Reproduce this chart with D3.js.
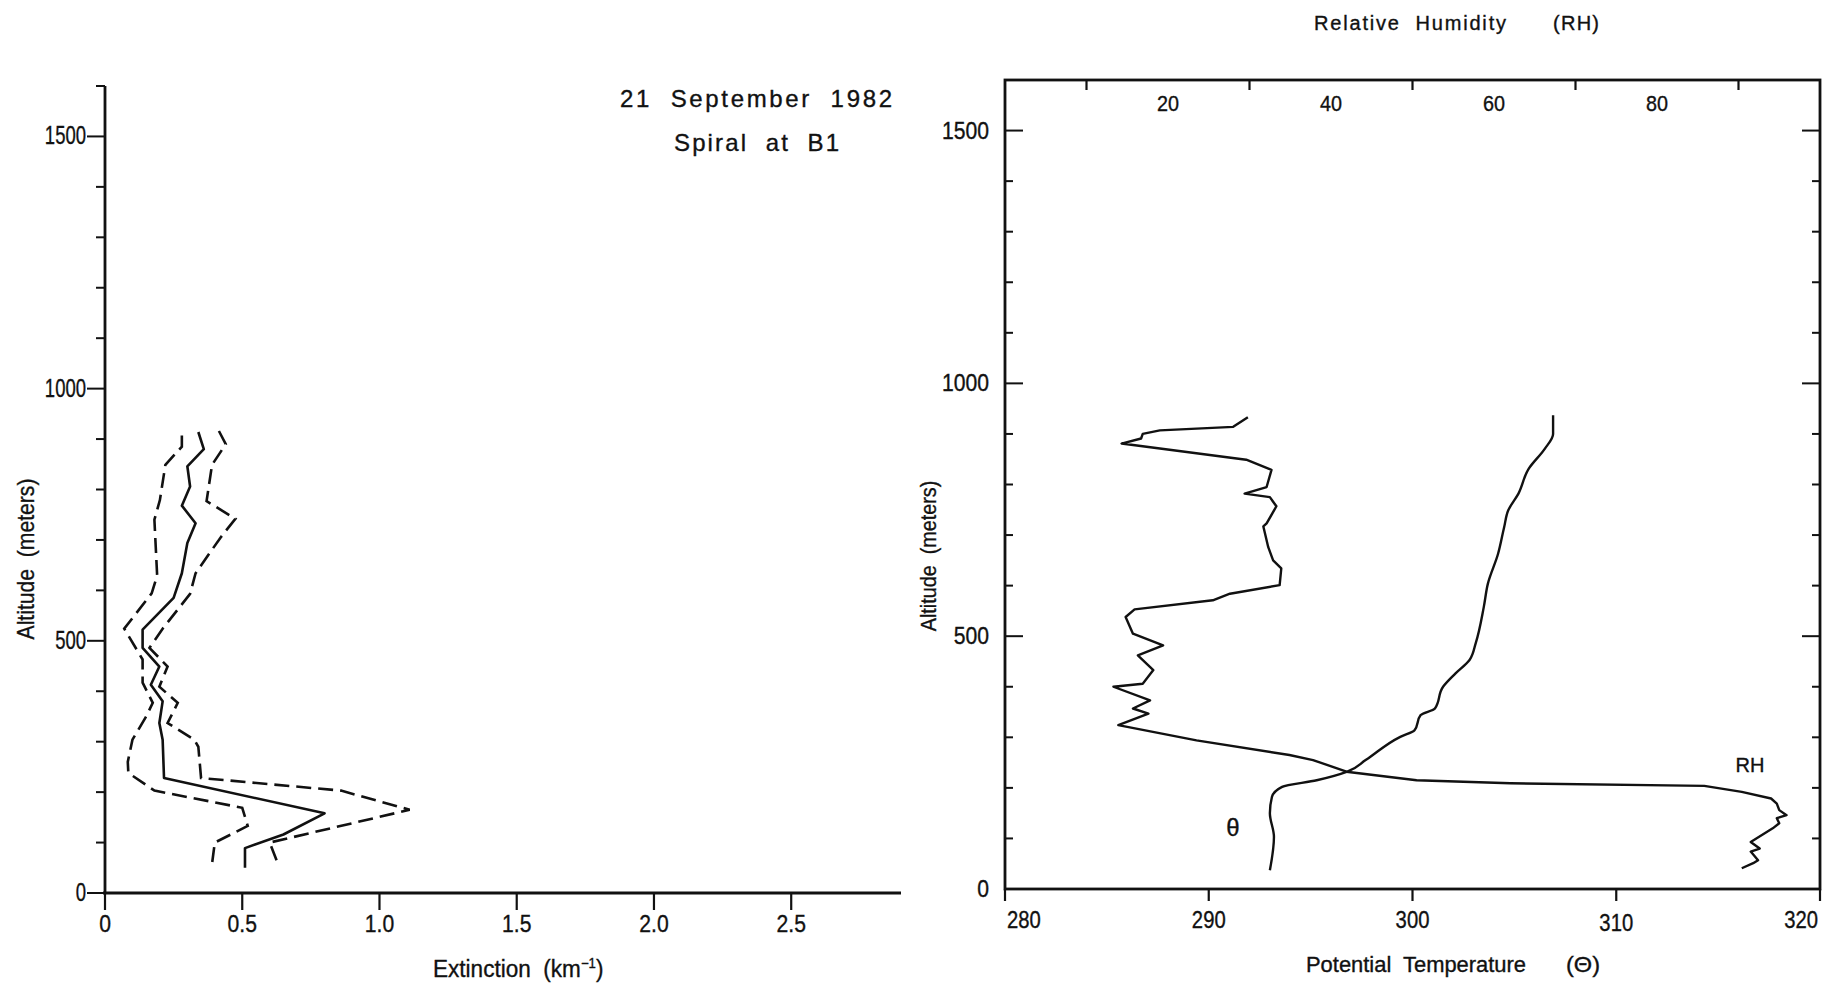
<!DOCTYPE html>
<html>
<head>
<meta charset="utf-8">
<script src="https://cdn.jsdelivr.net/npm/d3@7"></script>
<style>
  html, body { margin: 0; padding: 0; background: #fff; }
  svg { display: block; }
  text { fill: #111; stroke: #111; stroke-width: 0.35px; font-family: "Liberation Sans", Arial, sans-serif; }
</style>
</head>
<body>
<svg id="chart" width="1835" height="985"></svg>
<script>
// ---- Extinction profile, 21 September 1982, spiral at B1: [altitude m, extinction km^-1]
const extMean = [
  [914,0.34],[880,0.36],[846,0.30],[806,0.31],[768,0.28],[733,0.33],[694,0.30],
  [634,0.28],[585,0.25],[522,0.137],[486,0.137],[449,0.198],[413,0.167],[380,0.21],
  [337,0.198],[304,0.21],[228,0.215],[158,0.80],[116,0.65],[89,0.51],[50,0.51]
];
const extLower = [
  [907,0.28],[885,0.28],[849,0.22],[779,0.20],[740,0.18],[629,0.19],[594,0.17],
  [524,0.07],[463,0.137],[417,0.137],[377,0.174],[350,0.15],[304,0.10],[260,0.083],
  [238,0.085],[203,0.18],[169,0.50],[133,0.52],[100,0.40],[58,0.39]
];
const extUpper = [
  [916,0.415],[890,0.44],[849,0.39],[777,0.37],[742,0.475],[704,0.42],[634,0.33],
  [593,0.31],[524,0.21],[486,0.162],[449,0.228],[409,0.198],[377,0.265],[337,0.228],
  [304,0.325],[290,0.34],[228,0.35],[203,0.86],[165,1.11],[100,0.60],[58,0.63]
];

// ---- Relative humidity profile: [altitude m, RH %]
const rhProfile = [
  [933,29.8],[914,28.0],[907,19.0],[900,16.9],[891,16.7],[881,14.3],[849,29.6],
  [829,32.7],[795,32.1],[782,29.4],[775,32.5],[757,33.3],[723,32.1],[717,31.7],
  [676,32.3],[650,32.9],[634,33.9],[601,33.7],[584,27.6],[571,25.5],[553,15.9],
  [538,14.8],[505,15.7],[482,19.4],[462,16.3],[433,18.2],[406,16.9],[400,13.3],
  [373,17.8],[357,15.7],[347,17.6],[324,13.9],[294,23.5],[265,34.9],[255,37.8],
  [232,41.9],[215,50.5],[209,62.0],[204,85.8],[192,90.4],[179,94.0],[169,94.7],
  [156,95.0],[146,95.9],[140,94.7],[130,95.0],[120,94.2],[93,91.5],[80,92.6],
  [74,91.5],[57,92.4],[51,91.8],[41,90.4]
];

// ---- Potential temperature profile: [altitude m, theta K]
const thetaProfile = [
  [937,306.9],[900,306.9],[871,306.5],[831,305.7],[782,305.2],[749,304.7],
  [716,304.5],[663,304.2],[604,303.7],[558,303.5],[486,303.1],[453,302.8],
  [426,302.1],[400,301.5],[357,301.1],[344,300.4],[314,300.1],[301,299.4],
  [255,297.7],[232,296.8],[215,295.3],[202,293.6],[182,293.1],[150,293.0],
  [103,293.2],[37,293.0]
];

// ---- Tick values
const altMajor = [0, 500, 1000, 1500];
const altMinor = d3.range(0, 1601, 100);
const extTicks = [0, 0.5, 1.0, 1.5, 2.0, 2.5];
const thetaTicks = [280, 290, 300, 310, 320];
const rhTickMarks = [10, 30, 50, 70, 90];
const rhTickLabels = [20, 40, 60, 80];

const svg = d3.select("#chart");
const INK = "#111";

// horizontally condensed text (the plotter lettering is narrow)
function condensed(sel, x, y, sx, size, anchor, rotate) {
  return sel.attr("transform", `translate(${x},${y})` + (rotate ? ` rotate(${rotate})` : "") + ` scale(${sx},1)`)
    .attr("font-size", size).attr("text-anchor", anchor);
}

// =================== Left panel: extinction ===================
const L = { left: 105, right: 901, top: 86, bottom: 893 };
const xExt = d3.scaleLinear().domain([0, 2.9]).range([L.left, L.right]);
const yL = d3.scaleLinear().domain([0, 1600]).range([L.bottom, L.top]);

const gL = svg.append("g");

// y axis: ticks every 100 m, long ticks at labelled values
gL.append("line").attr("x1", L.left).attr("x2", L.left)
  .attr("y1", yL(0)).attr("y2", yL(1600))
  .attr("stroke", INK).attr("stroke-width", 2.8);
gL.selectAll(".ymin").data(altMinor).join("line")
  .attr("x1", L.left).attr("y1", d => yL(d)).attr("y2", d => yL(d))
  .attr("x2", d => altMajor.includes(d) ? L.left - 18 : L.left - 9)
  .attr("stroke", INK).attr("stroke-width", 2);
gL.selectAll(".ylab").data(altMajor).join("text")
  .each(function(d) { condensed(d3.select(this), L.left - 19, yL(d) + 8, 0.74, 25, "end"); })
  .text(d => d);

// x axis
gL.append("line").attr("x1", L.left - 2).attr("x2", L.right)
  .attr("y1", L.bottom).attr("y2", L.bottom)
  .attr("stroke", INK).attr("stroke-width", 2.8);
gL.selectAll(".xt").data(extTicks).join("line")
  .attr("x1", d => xExt(d)).attr("x2", d => xExt(d))
  .attr("y1", L.bottom).attr("y2", L.bottom + 17)
  .attr("stroke", INK).attr("stroke-width", 2.2);
gL.selectAll(".xl").data(extTicks).join("text")
  .each(function(d) { condensed(d3.select(this), xExt(d), L.bottom + 39, 0.88, 24, "middle"); })
  .text(d => d === 0 ? "0" : d3.format(".1f")(d));

// profiles
const lineExt = d3.line().x(d => xExt(d[1])).y(d => yL(d[0]));
gL.append("path").datum(extMean).attr("d", lineExt)
  .attr("fill", "none").attr("stroke", INK).attr("stroke-width", 2.6)
  .attr("stroke-linejoin", "round");
[extLower, extUpper].forEach(s => {
  gL.append("path").datum(s).attr("d", lineExt)
    .attr("fill", "none").attr("stroke", INK).attr("stroke-width", 2.6)
    .attr("stroke-dasharray", "15 7");
});

// axis titles and annotation
condensed(gL.append("text"), 34, 559, 0.92, 23, "middle", -90)
  .attr("xml:space", "preserve").text("Altitude  (meters)");
const extTitle = condensed(gL.append("text"), 433, 977, 0.94, 24, "start")
  .attr("xml:space", "preserve");
extTitle.append("tspan").text("Extinction  (km");
extTitle.append("tspan").attr("dy", -9).attr("font-size", 14).text("−1");
extTitle.append("tspan").attr("dy", 9).text(")");

gL.append("text").attr("x", 892).attr("y", 107).attr("text-anchor", "end")
  .attr("font-size", 24).attr("textLength", 272).attr("lengthAdjust", "spacing")
  .attr("xml:space", "preserve").text("21  September  1982");
gL.append("text").attr("x", 839).attr("y", 151).attr("text-anchor", "end")
  .attr("font-size", 24).attr("textLength", 165).attr("lengthAdjust", "spacing")
  .attr("xml:space", "preserve").text("Spiral  at  B1");

// =================== Right panel: RH and potential temperature ===================
const R = { left: 1005, right: 1820, top: 80, bottom: 889 };
const xTheta = d3.scaleLinear().domain([280, 320]).range([R.left, R.right]);
const xRH = d3.scaleLinear().domain([0, 100]).range([R.left, R.right]);
const yR = d3.scaleLinear().domain([0, 1600]).range([R.bottom, R.top]);

const gR = svg.append("g");
gR.append("rect").attr("x", R.left).attr("y", R.top)
  .attr("width", R.right - R.left).attr("height", R.bottom - R.top)
  .attr("fill", "none").attr("stroke", INK).attr("stroke-width", 2.8);

// inward altitude ticks on both sides
gR.selectAll(".yl").data(altMinor.slice(1, -1)).join("line")
  .attr("x1", R.left).attr("y1", d => yR(d)).attr("y2", d => yR(d))
  .attr("x2", d => altMajor.includes(d) ? R.left + 18 : R.left + 8)
  .attr("stroke", INK).attr("stroke-width", 2);
gR.selectAll(".yr").data(altMinor.slice(1, -1)).join("line")
  .attr("x1", R.right).attr("y1", d => yR(d)).attr("y2", d => yR(d))
  .attr("x2", d => altMajor.includes(d) ? R.right - 18 : R.right - 8)
  .attr("stroke", INK).attr("stroke-width", 2);
gR.selectAll(".ylabR").data(altMajor).join("text")
  .each(function(d) { condensed(d3.select(this), R.left - 16, yR(d) + 8, 0.92, 23, "end"); })
  .text(d => d);

// bottom theta axis
gR.selectAll(".bt").data(thetaTicks).join("line")
  .attr("x1", d => xTheta(d)).attr("x2", d => xTheta(d))
  .attr("y1", R.bottom).attr("y2", R.bottom + 12)
  .attr("stroke", INK).attr("stroke-width", 2.2);
gR.selectAll(".bl").data(thetaTicks).join("text")
  .each(function(d) {
    const dx = d === 280 ? 2 : d === 320 ? -2 : 0;
    const anchor = d === 280 ? "start" : d === 320 ? "end" : "middle";
    condensed(d3.select(this), xTheta(d) + dx, R.bottom + (d === 310 ? 42 : 39), 0.88, 23, anchor);
  })
  .text(d => d);

// top RH axis
gR.selectAll(".tt").data(rhTickMarks).join("line")
  .attr("x1", d => xRH(d)).attr("x2", d => xRH(d))
  .attr("y1", R.top).attr("y2", R.top + 10)
  .attr("stroke", INK).attr("stroke-width", 2.2);
gR.selectAll(".tl").data(rhTickLabels).join("text")
  .each(function(d) { condensed(d3.select(this), xRH(d), R.top + 31, 0.9, 22, "middle"); })
  .text(d => d);

// profiles
const lineRH = d3.line().x(d => xRH(d[1])).y(d => yR(d[0]));
const lineTh = d3.line().x(d => xTheta(d[1])).y(d => yR(d[0])).curve(d3.curveMonotoneY);
gR.append("path").datum(rhProfile).attr("d", lineRH)
  .attr("fill", "none").attr("stroke", INK).attr("stroke-width", 2.4)
  .attr("stroke-linejoin", "round");
gR.append("path").datum(thetaProfile).attr("d", lineTh)
  .attr("fill", "none").attr("stroke", INK).attr("stroke-width", 2.4);

// curve labels
gR.append("text").attr("x", 1233).attr("y", 836).attr("text-anchor", "middle")
  .attr("font-size", 24).text("θ");
gR.append("text").attr("x", 1750).attr("y", 772).attr("text-anchor", "middle")
  .attr("font-size", 20).text("RH");

// axis titles
condensed(gR.append("text"), 936, 556, 0.9, 22, "middle", -90)
  .attr("xml:space", "preserve").text("Altitude  (meters)");
gR.append("text").attr("x", 1314).attr("y", 30).attr("font-size", 20)
  .attr("textLength", 192).attr("lengthAdjust", "spacing")
  .attr("xml:space", "preserve").text("Relative  Humidity");
gR.append("text").attr("x", 1553).attr("y", 30).attr("font-size", 20)
  .attr("textLength", 46).attr("lengthAdjust", "spacing").text("(RH)");
gR.append("text").attr("x", 1306).attr("y", 972).attr("font-size", 22)
  .attr("textLength", 220).attr("lengthAdjust", "spacingAndGlyphs")
  .attr("xml:space", "preserve").text("Potential  Temperature");
gR.append("text").attr("x", 1566).attr("y", 972).attr("font-size", 22)
  .attr("textLength", 34).attr("lengthAdjust", "spacingAndGlyphs").text("(Θ)");
</script>
</body>
</html>
